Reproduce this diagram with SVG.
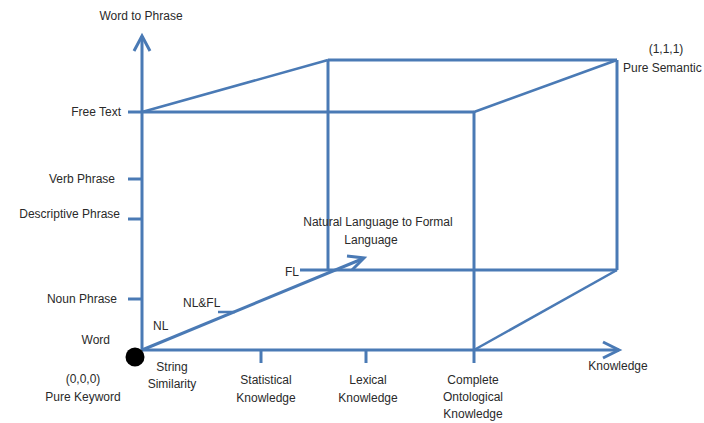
<svg xmlns="http://www.w3.org/2000/svg" width="704" height="423" viewBox="0 0 704 423">
<style>
.ln{stroke:#4a7ab5;stroke-width:3;fill:none;stroke-linecap:butt}
.th{stroke:#4a7ab5;stroke-width:2.5;fill:none}
text{font-family:"Liberation Sans",Arial,sans-serif;font-size:12px;fill:#2a2a2a}
.m{text-anchor:middle}
.e{text-anchor:end}
</style>
<rect width="704" height="423" fill="#fff"/>
<g id="connectors">
<!-- axes -->
<line class="ln" x1="142" y1="350" x2="142" y2="36"/>
<path class="ln" d="M134,51 L142,36 L150,51"/>
<line class="ln" x1="142" y1="350" x2="619" y2="350"/>
<path class="ln" d="M603,342 L619,350 L603,358"/>
<!-- front face -->
<line class="ln" x1="128" y1="112" x2="474" y2="112"/>
<line class="ln" x1="474" y1="112" x2="474" y2="363"/>
<!-- back face -->
<line class="ln" x1="328" y1="60" x2="617" y2="60"/>
<line class="ln" x1="328" y1="60" x2="328" y2="270"/>
<line class="ln" x1="617" y1="60" x2="617" y2="270"/>
<line class="ln" x1="300" y1="270" x2="617" y2="270"/>
<!-- depth edges -->
<line class="th" x1="142" y1="112" x2="328" y2="60"/>
<line class="th" x1="474" y1="112" x2="617" y2="60"/>
<line class="th" x1="474" y1="350" x2="617" y2="270"/>
<!-- diagonal arrow -->
<line class="ln" x1="142" y1="350" x2="362" y2="259"/>
<path class="ln" d="M347,256 L364,258 L352,270"/>
<line class="th" x1="218" y1="312" x2="235" y2="312"/>
<!-- y ticks -->
<line class="ln" x1="128" y1="179" x2="142" y2="179"/>
<line class="ln" x1="128" y1="219" x2="142" y2="219"/>
<line class="ln" x1="128" y1="299" x2="142" y2="299"/>
<!-- x ticks -->
<line class="ln" x1="261" y1="350" x2="261" y2="363"/>
<line class="ln" x1="366" y1="350" x2="366" y2="363"/>
</g>
<g id="origin"><circle cx="135" cy="357" r="9.5" fill="#000"/></g>
<g id="y-labels">
<text class="m" x="141" y="20">Word  to Phrase</text>
<text class="e" x="121" y="116">Free Text</text>
<text class="e" x="115" y="183">Verb Phrase</text>
<text class="e" x="120" y="218">Descriptive Phrase</text>
<text class="e" x="117" y="303">Noun Phrase</text>
<text class="e" x="110" y="344">Word</text>
</g>
<g id="diag-labels">
<text x="153" y="330">NL</text>
<text x="183" y="307">NL&amp;FL</text>
<text x="285" y="276">FL</text>
<text class="m" x="378" y="226">Natural Language to Formal</text>
<text class="m" x="371" y="244">Language</text>
</g>
<g id="x-labels">
<text class="m" x="83" y="383">(0,0,0)</text>
<text class="m" x="83" y="401">Pure Keyword</text>
<text class="m" x="172" y="371">String</text>
<text class="m" x="172" y="388">Similarity</text>
<text class="m" x="266" y="384">Statistical</text>
<text class="m" x="266" y="402">Knowledge</text>
<text class="m" x="368" y="384">Lexical</text>
<text class="m" x="368" y="402">Knowledge</text>
<text class="m" x="473" y="384">Complete</text>
<text class="m" x="473" y="401">Ontological</text>
<text class="m" x="473" y="418">Knowledge</text>
<text class="m" x="618" y="370">Knowledge</text>
</g>
<g id="corner">
<text class="m" x="666" y="53">(1,1,1)</text>
<text x="623" y="72">Pure Semantic</text>
</g>
</svg>
